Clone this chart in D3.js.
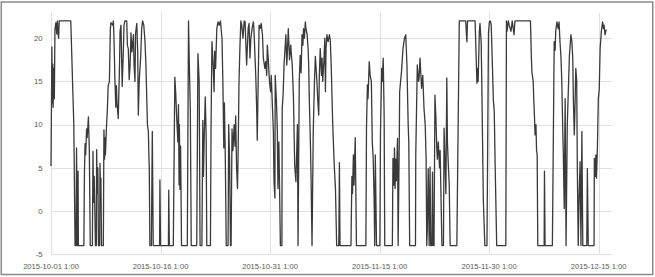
<!DOCTYPE html>
<html>
<head>
<meta charset="utf-8">
<script src="https://cdn.jsdelivr.net/npm/d3@7"></script>
<style>
  html, body { margin: 0; padding: 0; background: #fff; }
  svg { display: block; }
</style>
</head>
<body>
<div id="chart"></div>
<script>
// Series start (first reading) and hours elapsed for each traced vertex
const startTime = Date.UTC(2015, 9, 1, 1);
const hours = [
  0, 3, 4, 6, 7, 9, 11, 13, 16, 19, 21, 23, 25, 27, 65, 75, 79, 82, 84, 86,
  87, 89, 90, 108, 110, 112, 114, 117, 119, 123, 126, 129, 136, 138, 140, 142, 144, 146, 149, 150,
  152, 154, 156, 160, 161, 163, 164, 166, 172, 174, 176, 178, 179, 182, 185, 188, 192, 195, 197, 203,
  205, 207, 210, 213, 215, 217, 221, 225, 227, 230, 234, 238, 240, 243, 249, 251, 254, 257, 260, 263,
  266, 271, 273, 276, 278, 282, 285, 287, 290, 295, 298, 301, 305, 309, 312, 317, 320, 322, 323, 325,
  330, 333, 336, 357, 358, 360, 386, 387, 389, 402, 407, 410, 413, 417, 419, 421, 422, 424, 426, 429,
  448, 452, 455, 458, 461, 479, 483, 487, 490, 496, 499, 501, 504, 507, 510, 512, 524, 526, 529, 533,
  536, 538, 541, 545, 549, 553, 557, 560, 562, 565, 568, 570, 573, 576, 582, 584, 587, 590, 592, 595,
  598, 602, 605, 607, 610, 613, 615, 618, 621, 624, 627, 631, 635, 638, 641, 643, 648, 651, 654, 657,
  661, 665, 667, 673, 676, 678, 681, 684, 687, 691, 695, 698, 703, 706, 709, 711, 714, 718, 722, 724,
  728, 731, 733, 736, 737, 741, 744, 746, 749, 751, 754, 759, 760, 763, 766, 772, 775, 777, 780, 784,
  788, 791, 793, 797, 801, 805, 808, 810, 812, 816, 819, 822, 825, 828, 830, 833, 836, 838, 842, 845,
  847, 849, 853, 855, 858, 862, 866, 869, 874, 877, 880, 882, 885, 889, 891, 893, 897, 900, 902, 904,
  907, 911, 915, 918, 921, 926, 931, 935, 939, 946, 948, 950, 986, 989, 991, 994, 996, 1000, 1004, 1035,
  1037, 1040, 1042, 1046, 1049, 1053, 1056, 1059, 1062, 1064, 1066, 1070, 1081, 1083, 1085, 1087, 1089, 1092, 1095, 1097,
  1122, 1124, 1127, 1129, 1131, 1133, 1135, 1139, 1141, 1145, 1146, 1152, 1157, 1162, 1166, 1170, 1174, 1176, 1179, 1198,
  1199, 1204, 1208, 1210, 1213, 1218, 1222, 1226, 1230, 1233, 1235, 1237, 1240, 1243, 1246, 1248, 1252, 1254, 1256, 1259,
  1262, 1265, 1268, 1270, 1273, 1277, 1279, 1281, 1285, 1290, 1292, 1294, 1298, 1301, 1303, 1306, 1309, 1312, 1334, 1342,
  1363, 1367, 1369, 1394, 1400, 1402, 1404, 1408, 1410, 1414, 1416, 1421, 1426, 1433, 1438, 1441, 1444, 1447, 1451, 1454,
  1457, 1460, 1465, 1495, 1497, 1499, 1503, 1506, 1512, 1516, 1522, 1525, 1576, 1579, 1581, 1585, 1587, 1589, 1591, 1594,
  1596, 1598, 1600, 1621, 1622, 1624, 1648, 1654, 1657, 1659, 1663, 1667, 1670, 1673, 1676, 1679, 1682, 1684, 1687, 1690,
  1693, 1697, 1701, 1704, 1709, 1712, 1715, 1717, 1720, 1722, 1725, 1728, 1730, 1733, 1736, 1739, 1742, 1745, 1748, 1761,
  1763, 1766, 1785, 1786, 1789, 1791, 1793, 1796, 1799, 1802, 1805, 1809, 1813, 1816, 1818, 1821, 1825
];
const values = [
  5.2, 19, 12.5, 17, 12, 16.5, 13, 21, 21.8, 20.5, 22, 20.6, 20, 22, 22, 10, -4, -4, 7.3, -4,
  -4, 4.6, -4, -4, 4.7, 7.8, 6.5, 9.5, 8.5, 10.9, 7, -4, -4, 6.9, 1, 4, 0.5, -4, -4, 7.1,
  2, 5, -4, -4, 5.5, 1.5, 3.8, -4, -4, 9.4, 6, 8.5, 6.5, 9.5, 11.5, 14.5, 15, 21, 21.8, 21.5,
  22, 20, 15.4, 12, 14.5, 12.5, 10.7, 16.5, 20.8, 21.5, 14.4, 18.8, 21.5, 22, 22, 19.2, 18.8, 15.2, 16.9, 20.6,
  18.4, 20.4, 16.9, 15, 20.6, 21.7, 18.4, 11.1, 15, 18, 21.1, 22, 21.5, 19.6, 16.9, 10, 9.2, 6.1, 5, -4,
  -4, 9.2, -4, -4, 3.6, -4, -4, 2.4, -4, -4, 15.5, 13.6, 10.9, 8, 12.3, 3, 10, 2.5, 7.5, -4,
  -4, 22, 16.5, 11.5, -4, -4, 18.2, 15, -4, -4, 10.5, 4, 9, 13.2, 8.8, -4, -4, 9.4, 19.6, 16.9,
  13.8, 18.5, 16.5, 21.1, 21.9, 21.5, 22, 20.8, 20, 14.8, 7.3, 12.5, 6, -4, -4, 10, 6, -4, -4, 9.5,
  7, 10, 7.5, 11, 5, 2.6, 6.5, 15, 19, 22, 21.5, 20, 22, 21.9, 18.8, 16.9, 21.1, 21.7, 17.7, 20,
  21.1, 21.9, 21.1, 15.7, 11.9, 8.2, 15, 21.5, 21.1, 21.7, 20.4, 17.7, 16.5, 17.3, 15.7, 19.2, 17.7, 15, 13.8, 15.7,
  11.9, 9.2, 3.4, 1.5, 15.7, 12.7, 9.2, 2.6, 8, 3.4, -4, -4, 11.9, 13.5, 16.9, 20.4, 16.9, 18.4, 21.1, 17.5,
  19.2, 17.7, 16.9, 13, 5.3, 3.4, 7.3, 10, -4, 15, 18, 16, 20.4, 19.2, 21.1, 20, 21.9, 21.1, 20.4, 18.8,
  16.9, 13, 7.3, 3.4, -4, 9.2, 15, 17.9, 15, 12.7, 11.1, 15.7, 18.8, 15.7, 17.7, 15, 17.3, 20, 13.8, 18.8,
  20.4, 19.6, 20.4, 19.8, 16.9, 10, 5.3, 2.6, -4, -4, 5.6, -4, -4, 4, 2, 6.5, 3, 8.5, -4, -4,
  9.6, 14.6, 13, 17.3, 15.7, 15, 8, 6.1, 1.5, -4, 6.5, -4, -4, 9, 13, 16.5, 15, 17.7, 11.1, -4,
  -4, 6.1, 3, 7.3, 2.6, 6, 3.5, 8.4, -4, 8.9, 13.8, 16.1, 18.8, 20, 20.4, 16.9, 10, 8, -4, -4,
  6.5, 16.9, 15, 15.4, 17.7, 14.2, 15.7, 11.9, 10, 6, -4, -2, 4.9, -4, 5.1, -4, -4, 4.5, -4, -4,
  13.4, 11, 7.3, 6, 8, 5, 7, 3.4, -4, -4, 9.6, 7, 2, 15.4, 8, 5.3, 3, -4, -4, 22,
  22, 19.6, 22, 22, 14.8, 16.5, 15, 20.8, 21.7, 19.5, 14.8, 1.3, -4, -4, 20.6, 21.9, 22, 21.5, 16.7, 12.8,
  11.5, 5.1, -4, -4, 22, 20.8, 22, 21.5, 20.8, 22, 20.4, 22, 22, 17.7, 16, 15, 12.7, 11.1, 8.8, 10,
  7, 6.5, -4, -4, 4.6, -4, -4, 19.6, 18.6, 20.8, 21.9, 21.1, 21.9, 19.6, 18, 15, 9.6, 6.5, 0.3, 13,
  -4, 10, 14.6, 18, 20.4, 19.6, 17.7, 13, 8.8, 11.5, 16.5, 15, 5, -4, 1.9, 5.7, -4, 9.2, -4, -4,
  4.9, -4, -4, 6.1, 4, 6.5, 3.8, 7.3, 13, 14, 18.8, 20.8, 21.9, 21.1, 21.5, 20.4, 21
];
const yTicks = [-5, 0, 5, 10, 15, 20];
const xTickDays = [0, 15, 30, 45, 60, 75];
const spanHours = 1843;

const W = 655, H = 277;
const plot = { left: 51, right: 611.7, top: 13, bottom: 254.2 };

const svg = d3.select("#chart")
    .append("svg")
    .attr("width", W)
    .attr("height", H);

const x = d3.scaleUtc()
    .domain([new Date(startTime), d3.utcHour.offset(new Date(startTime), spanHours)])
    .range([plot.left, plot.right]);

const y = d3.scaleLinear()
    .domain([-5, 20])
    .range([254.2, 38.2]);

const xTicks = xTickDays.map(d => d3.utcDay.offset(new Date(startTime), d));
const fmt = d3.utcFormat("%Y-%m-%d %-H:%M");

// outer frame
svg.append("rect")
    .attr("x", 1.25)
    .attr("y", 2)
    .attr("width", 651.5)
    .attr("height", 272.5)
    .attr("fill", "none")
    .attr("stroke", "#8a8a8a")
    .attr("stroke-width", 1.5);

// horizontal grid
svg.selectAll(".hgrid")
    .data(yTicks)
    .enter()
    .append("line")
    .attr("x1", plot.left)
    .attr("x2", plot.right)
    .attr("y1", d => Math.round(y(d)) + 0.5)
    .attr("y2", d => Math.round(y(d)) + 0.5)
    .attr("stroke", "#e0e0e0")
    .attr("stroke-width", 1);

// vertical grid
svg.selectAll(".vgrid")
    .data(xTicks)
    .enter()
    .append("line")
    .attr("x1", d => Math.round(x(d)) + 0.5)
    .attr("x2", d => Math.round(x(d)) + 0.5)
    .attr("y1", plot.top)
    .attr("y2", plot.bottom)
    .attr("stroke", "#e0e0e0")
    .attr("stroke-width", 1);

// y labels
svg.selectAll(".ylab")
    .data(yTicks)
    .enter()
    .append("text")
    .attr("x", 42.7)
    .attr("y", d => y(d))
    .attr("dy", "0.35em")
    .attr("text-anchor", "end")
    .style("font-family", "Liberation Sans, Arial, sans-serif")
    .style("font-size", "7.8px")
    .attr("fill", "#595959")
    .text(d => d);

// x labels
svg.selectAll(".xlab")
    .data(xTicks)
    .enter()
    .append("text")
    .attr("x", d => x(d))
    .attr("y", 268.5)
    .attr("text-anchor", "middle")
    .style("font-family", "Liberation Sans, Arial, sans-serif")
    .style("font-size", "7.6px")
    .attr("fill", "#595959")
    .text(d => fmt(d));

// the series
const pts = hours.map((h, i) => ({ t: d3.utcHour.offset(new Date(startTime), h), v: values[i] }));

const line = d3.line()
    .x(d => x(d.t))
    .y(d => y(d.v));

svg.append("path")
    .datum(pts)
    .attr("d", line)
    .attr("fill", "none")
    .attr("stroke", "#3a3a3a")
    .attr("stroke-width", 1.3)
    .attr("stroke-linejoin", "round");
</script>
</body>
</html>
